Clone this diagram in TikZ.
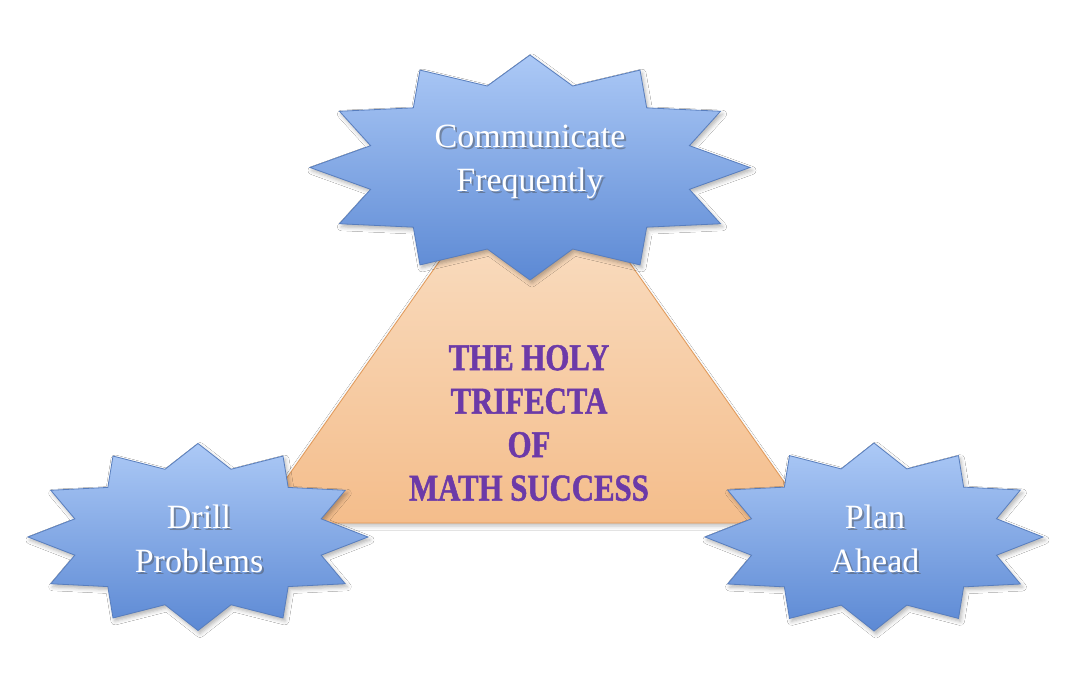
\documentclass[tikz,border=0pt]{standalone}
\usepackage{fontspec}
\setmainfont{Liberation Serif}
\newfontfamily\mottofont[FakeStretch=0.81,FakeBold=1.3]{Liberation Serif}
\usetikzlibrary{shadows.blur}

\definecolor{burstTop}{RGB}{172,201,246}
\definecolor{burstBot}{RGB}{92,137,212}
\definecolor{burstEdge}{RGB}{88,126,190}
\definecolor{triTop}{RGB}{251,231,210}
\definecolor{triBot}{RGB}{244,189,139}
\definecolor{triEdge}{RGB}{226,152,86}
\definecolor{motto}{RGB}{108,58,168}

% twelve-point burst: centre (#1,#2), radii #3 and #4
\newcommand\spiky[4]{%
  \path[burst] ({#1+#3},#2)
    \foreach \k in {1,...,23}{
      -- ({#1+#3*(isodd(\k)?0.75:1)*cos(15*\k)},{#2+#4*(isodd(\k)?0.75:1)*sin(15*\k)})
    } -- cycle;}

\begin{document}
\begin{tikzpicture}[x=1pt,y=-1pt,
  burst/.style={draw=burstEdge, line width=0.8pt, line join=miter,
    top color=burstTop, bottom color=burstBot,
    blur shadow={shadow xshift=2pt, shadow yshift=-3pt,
      shadow blur radius=4pt, shadow opacity=30}},
  pyramid/.style={draw=triEdge, line width=0.8pt, line join=miter,
    top color=triTop, bottom color=triBot,
    blur shadow={shadow xshift=0pt, shadow yshift=-3pt,
      shadow blur radius=4pt, shadow opacity=25}},
  burstlabel/.style={text=white, font=\fontsize{34}{44}\selectfont,
    align=center, inner sep=0pt},
  burstshade/.style={burstlabel, text=black!70, opacity=0.45},
  mottolabel/.style={text=motto, font=\mottofont\bfseries\fontsize{38}{43.5}\selectfont,
    align=center, inner sep=0pt}]

\useasboundingbox (0,0) rectangle (1087,696);
\fill[white] (0,0) rectangle (1087,696);

% central triangle
\coordinate (apex) at (534,127);
\coordinate (baseL) at (255,523);
\coordinate (baseR) at (813,523);
\path[pyramid] (apex) -- (baseR) -- (baseL) -- cycle;

% the three bursts
\spiky{530}{167.5}{220}{112.5}
\spiky{198}{537}{170}{93.5}
\spiky{874}{537}{169}{94}

% burst labels with their drop shadows
\node[burstshade] (topS) at (532,164) {Communicate\\Frequently};
\node[burstlabel] (top) at (530,162) {Communicate\\Frequently};
\node[burstshade] (leftS) at (201,541) {Drill\\Problems};
\node[burstlabel] (left) at (199,539) {Drill\\Problems};
\node[burstshade] (rightS) at (877,541) {Plan\\Ahead};
\node[burstlabel] (right) at (875,539) {Plan\\Ahead};

% motto in the triangle
\node[mottolabel] (motto) at (529,423) {THE HOLY\\TRIFECTA\\OF\\MATH SUCCESS};
\end{tikzpicture}
\end{document}
